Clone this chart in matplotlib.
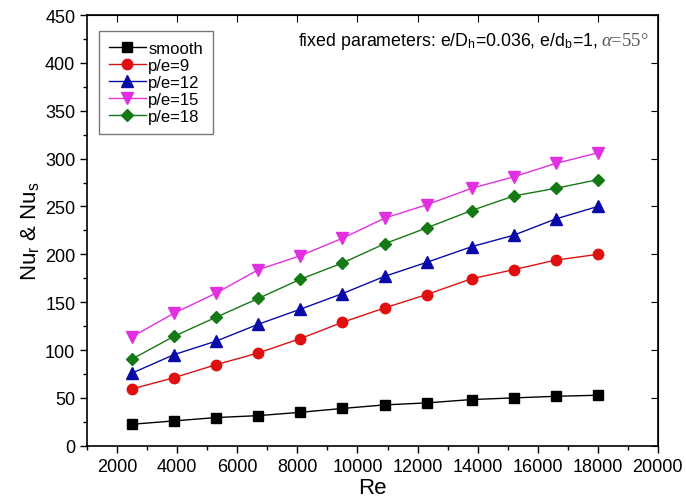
#Importing Necessary libraries
import matplotlib
matplotlib.use('Agg')
import matplotlib.pyplot as plt
from matplotlib.ticker import MultipleLocator

#-------------------Data-----------------------------------------
re_values = [2500, 3900, 5300, 6700, 8100, 9500, 10900, 12300, 13800, 15200, 16600, 18000]

nu_smooth = [22.5, 26, 29.5, 31.5, 35, 39, 42.7, 44.8, 48.3, 50, 51.7, 52.8]
nu_pe9 = [59.4, 71.2, 84.8, 97, 112, 129, 144, 158, 174.5, 184, 194, 200]
nu_pe12 = [76, 95.3, 109.4, 127, 142.7, 159, 177, 191.6, 208, 220, 237, 250]
nu_pe15 = [114, 138.6, 159.6, 184, 198.6, 216.8, 237.8, 251.7, 269, 281, 295, 306]
nu_pe18 = [90.7, 114.5, 134.4, 154, 174, 191, 211, 227.6, 245.8, 261, 269, 278]

series_labels = ['smooth', 'p/e=9', 'p/e=12', 'p/e=15', 'p/e=18']

#-------------------Styling----------------------
plt.rcParams['font.family'] = ['Liberation Sans', 'DejaVu Sans']
plt.rcParams['mathtext.fontset'] = 'custom'
plt.rcParams['mathtext.rm'] = 'Liberation Sans'
plt.rcParams['mathtext.it'] = 'Liberation Serif:italic'

fig = plt.figure(figsize=(6.86, 5.02), dpi=100)
ax = fig.add_axes([0.127, 0.110, 0.832, 0.858])

# one entry per series: values, colour, marker, marker size
series = [
    (nu_smooth, '#000000', 's', 7),
    (nu_pe9, '#e01010', 'o', 7.5),
    (nu_pe12, '#0a0aa8', '^', 8),
    (nu_pe15, '#e030e0', 'v', 8),
    (nu_pe18, '#157a15', 'D', 6.5),
]

for (vals, col, mk, ms), lab in zip(series, series_labels):
    ax.plot(re_values, vals, color=col, marker=mk, markersize=ms,
            linewidth=1.0, markeredgecolor=col, markerfacecolor=col, label=lab)

# Axis limits and ticks
ax.set_xlim(1000, 20000)
ax.set_ylim(0, 450)
ax.xaxis.set_major_locator(MultipleLocator(2000))
ax.xaxis.set_minor_locator(MultipleLocator(1000))
ax.yaxis.set_major_locator(MultipleLocator(50))
ax.yaxis.set_minor_locator(MultipleLocator(25))
ax.tick_params(which='both', direction='out', top=False, right=False, labelsize=13, width=1.0)
ax.tick_params(which='major', length=5)
ax.tick_params(which='minor', length=3)

# mirrored ticks on top/right pointing inward
ax_top = ax.secondary_xaxis('top')
ax_top.set_xticks(range(2000, 20001, 2000))
ax_top.tick_params(direction='in', length=5, labeltop=False)
ax_right = ax.secondary_yaxis('right')
ax_right.set_yticks(range(0, 451, 50))
ax_right.tick_params(direction='in', length=5, labelright=False)

for sp in ax.spines.values():
    sp.set_linewidth(1.2)

# X axis label
ax.set_xlabel('Re', fontsize=16, labelpad=2)
# Y axis label
ax.set_ylabel(r'Nu$_\mathregular{r}$ & Nu$_\mathregular{s}$', fontsize=16, labelpad=3)

# Legend
leg = ax.legend(loc='upper left', bbox_to_anchor=(0.021, 0.963), fontsize=12,
                fancybox=False, edgecolor='#555555', handlelength=2.2,
                handletextpad=0.15, borderpad=0.6, labelspacing=0.12, borderaxespad=0)
leg.get_frame().set_linewidth(1.0)

# Annotation (alpha part in a serif face, as in the original)
ax.text(0.898, 0.94, r'fixed parameters: e/D$_\mathregular{h}$=0.036, e/d$_\mathregular{b}$=1, ',
        transform=ax.transAxes, ha='right', va='center', fontsize=12.8)
ax.text(0.900, 0.94, r'$\alpha$=55°', transform=ax.transAxes, ha='left', va='center',
        fontsize=13.5, family='Liberation Serif', color='#555555')

fig.savefig('out.png', dpi=100)
